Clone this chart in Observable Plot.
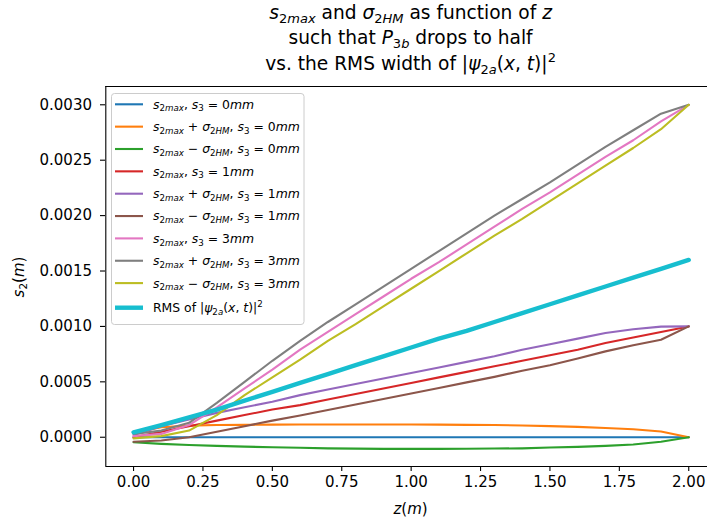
<!DOCTYPE html>
<html><head><meta charset="utf-8">
<script src="https://cdn.jsdelivr.net/npm/d3@7"></script>
<script src="https://cdn.jsdelivr.net/npm/@observablehq/plot@0.6"></script>
<style>body{margin:0;background:#fff;} svg{display:block;}</style>
</head><body><div id="chart"></div>
<script>
// ---- data ----
const z = [0,0.1,0.2,0.3,0.4,0.5,0.6,0.7,0.8,0.9,1.0,1.1,1.2,1.3,1.4,1.5,1.6,1.7,1.8,1.9,2.0];
const s3_0_max   = [0,0,0,0,0,0,0,0,0,0,0,0,0,0,0,0,0,0,0,0,0];
const s3_0_plus  = [0.00004,0.00009,0.000105,0.00011,0.000112,0.000114,0.000115,0.000115,0.000115,0.000115,0.000115,0.000114,0.000112,0.00011,0.000106,0.0001,0.000094,0.000084,0.000072,0.000052,0];
const s3_0_minus = [-0.000045,-0.00006,-0.00007,-0.000078,-0.000085,-0.00009,-0.000095,-0.0001,-0.000103,-0.000105,-0.000105,-0.000105,-0.000104,-0.000102,-0.0001,-0.000093,-0.000087,-0.000078,-0.000065,-0.00004,0];
const s3_1_max   = [0,0.00005,0.0001,0.00015,0.0002,0.00025,0.00029,0.00034,0.00039,0.00044,0.00049,0.00054,0.00059,0.00064,0.00069,0.00074,0.00079,0.00085,0.0009,0.00095,0.001];
const s3_1_plus  = [0.00002,0.0001,0.00016,0.00022,0.00027,0.00032,0.00038,0.00043,0.00048,0.00053,0.00058,0.00063,0.00068,0.00073,0.00079,0.00084,0.00089,0.00094,0.000975,0.000998,0.001];
const s3_1_minus = [-0.00004,-0.00003,0.0,0.00005,0.0001,0.00015,0.000196,0.000245,0.000295,0.000345,0.000395,0.000445,0.000495,0.000545,0.0006,0.00065,0.00071,0.000775,0.00083,0.00088,0.001];
const s3_3_max   = [0.00001,0.00003,0.00011,0.00027,0.00044,0.00061,0.00079,0.00095,0.00111,0.00127,0.00143,0.00158,0.00174,0.0019,0.00206,0.00221,0.00237,0.00253,0.00268,0.00285,0.003];
const s3_3_plus  = [0.00003,0.00006,0.00013,0.00031,0.0005,0.00069,0.00087,0.00104,0.0012,0.00136,0.00152,0.00168,0.00184,0.002,0.00215,0.0023,0.00246,0.00262,0.00277,0.00292,0.003];
const s3_3_minus = [-0.00001,0.00001,0.00006,0.0002,0.00038,0.00054,0.0007,0.00087,0.00102,0.00118,0.00134,0.0015,0.00166,0.00182,0.00197,0.00213,0.00229,0.00245,0.00261,0.00278,0.003];
const rms        = [0.000045,0.00011,0.00018,0.00025,0.00033,0.00041,0.00049,0.00057,0.00065,0.00073,0.00081,0.00089,0.00096,0.00104,0.00112,0.0012,0.00128,0.00136,0.00144,0.00152,0.0016];

const seriesLabels = [
  "$s_{2max}, s_3 = 0mm$",
  "$s_{2max} + σ_{2HM}, s_3 = 0mm$",
  "$s_{2max} − σ_{2HM}, s_3 = 0mm$",
  "$s_{2max}, s_3 = 1mm$",
  "$s_{2max} + σ_{2HM}, s_3 = 1mm$",
  "$s_{2max} − σ_{2HM}, s_3 = 1mm$",
  "$s_{2max}, s_3 = 3mm$",
  "$s_{2max} + σ_{2HM}, s_3 = 3mm$",
  "$s_{2max} − σ_{2HM}, s_3 = 3mm$",
  "RMS of $|ψ_{2a}(x, t)|^2$"
];
const seriesValues = [s3_0_max, s3_0_plus, s3_0_minus, s3_1_max, s3_1_plus, s3_1_minus, s3_3_max, s3_3_plus, s3_3_minus, rms];
const seriesColors = ["#1f77b4","#ff7f0e","#2ca02c","#d62728","#9467bd","#8c564b","#e377c2","#7f7f7f","#bcbd22","#17becf"];
const seriesWidths = [2.1,2.1,2.1,2.1,2.1,2.1,2.1,2.1,2.1,4.4];

const xTicks = [0,0.25,0.5,0.75,1.0,1.25,1.5,1.75,2.0];
const yTicks = [0,0.0005,0.001,0.0015,0.002,0.0025,0.003];
const titleLines = [
  "$s_{2max}$ and $σ_{2HM}$ as function of $z$",
  "such that $P_{3b}$ drops to half",
  "vs. the RMS width of $|ψ_{2a}(x, t)|^2$"
];
const xLabel = "$z(m)$";
const yLabel = "$s_2(m)$";

// ---- layout ----
const W = 707, H = 523;
const xDomain = [-0.1, 2.1], xRange = [105.3, 716];
const yDomain = [-0.000264, 0.003165], yRange = [466, 86];
const FS = 15;

const data = [];
seriesValues.forEach((vals, k) => vals.forEach((v, i) => data.push({z: z[i], v, k})));

const chart = Plot.plot({
  width: W, height: H,
  marginLeft: 105, marginRight: 0, marginTop: 86, marginBottom: 57,
  style: {fontFamily: "DejaVu Sans", fontSize: FS + "px", color: "#000", background: "#fff"},
  x: {domain: xDomain, range: xRange},
  y: {domain: yDomain, range: yRange},
  marks: [
    Plot.axisX({ticks: xTicks, tickSize: 5, tickPadding: 5.2, tickFormat: d => d.toFixed(2), label: null, strokeWidth: 1.1, stroke: "#000"}),
    Plot.axisY({ticks: yTicks, tickSize: 5, tickPadding: 8.5, tickFormat: d => d.toFixed(4), label: null, strokeWidth: 1.1, stroke: "#000"}),
    ...seriesValues.map((_, k) => Plot.line(data.filter(d => d.k === k), {x: "z", y: "v", stroke: seriesColors[k], strokeWidth: seriesWidths[k]})),
    Plot.ruleX([xDomain[0]], {y1: yDomain[0], y2: yDomain[1], stroke: "#000", strokeWidth: 1.1}),
    Plot.ruleY(yDomain, {x1: xDomain[0], x2: xDomain[1], stroke: "#000", strokeWidth: 1.1})
  ]
});
document.getElementById("chart").appendChild(chart);

// ---- mini mathtext into tspans ----
function rich(textSel, src, fs) {
  const out = []; let math = false; let i = 0;
  const isLetter = c => /[A-Za-zα-ωΑ-Ω]/.test(c);
  function push(ch, it, lvl) {
    const last = out[out.length - 1];
    if (last && last.it === it && last.lvl === lvl) last.t += ch; else out.push({t: ch, it, lvl});
  }
  while (i < src.length) {
    const c = src[i];
    if (c === "$") { math = !math; i++; continue; }
    if (math && (c === "_" || c === "^")) {
      const lvl = c === "_" ? -1 : 1;
      let content;
      if (src[i + 1] === "{") { const j = src.indexOf("}", i); content = src.slice(i + 2, j); i = j + 1; }
      else { content = src[i + 1]; i += 2; }
      for (const ch of content) push(ch, isLetter(ch), lvl);
      continue;
    }
    push(c, math && isLetter(c), 0);
    i++;
  }
  let cur = 0;
  out.forEach(p => {
    const ts = textSel.append("tspan").text(p.t);
    if (p.it) ts.attr("font-style", "italic");
    if (p.lvl !== 0) ts.attr("font-size", (fs * 0.7) + "px");
    const target = p.lvl === -1 ? 0.22 : p.lvl === 1 ? -0.42 : 0;
    const dy = target - cur;
    if (dy !== 0) ts.attr("dy", (dy * fs) + "px");
    cur = target;
  });
}

const svg = d3.select(chart);
// title
const TFS = 18.6;
titleLines.forEach((line, i) => {
  const t = svg.append("text").attr("x", 410.6).attr("y", [19, 44, 70][i])
    .attr("text-anchor", "middle").attr("font-family", "DejaVu Sans").attr("font-size", TFS + "px")
    .attr("fill", "#000").style("white-space", "pre");
  rich(t, line, TFS);
});
// axis labels
const xl = svg.append("text").attr("x", 410.6).attr("y", 514).attr("text-anchor", "middle")
  .attr("font-family", "DejaVu Sans").attr("font-size", FS + "px").attr("fill", "#000");
rich(xl, xLabel, FS);
const yl = svg.append("text").attr("transform", "translate(23.5,277) rotate(-90)").attr("text-anchor", "middle")
  .attr("font-family", "DejaVu Sans").attr("font-size", FS + "px").attr("fill", "#000");
rich(yl, yLabel, FS);

// legend
const LFS = 12.4;
const lg = svg.append("g");
lg.append("rect").attr("x", 111.5).attr("y", 93.5).attr("width", 192.5).attr("height", 231).attr("rx", 3)
  .attr("fill", "#fff").attr("fill-opacity", 0.8).attr("stroke", "#cccccc").attr("stroke-width", 1);
seriesLabels.forEach((lab, k) => {
  const yc = k < 9 ? 104.3 + 22.35 * k : 307.7;
  lg.append("line").attr("x1", 115).attr("x2", 143).attr("y1", yc).attr("y2", yc)
    .attr("stroke", seriesColors[k]).attr("stroke-width", seriesWidths[k]);
  const t = lg.append("text").attr("x", 153).attr("y", yc + 4.4).attr("text-anchor", "start")
    .attr("font-family", "DejaVu Sans").attr("font-size", LFS + "px").attr("fill", "#000").style("white-space", "pre");
  rich(t, lab, LFS);
});
</script>
</body></html>
